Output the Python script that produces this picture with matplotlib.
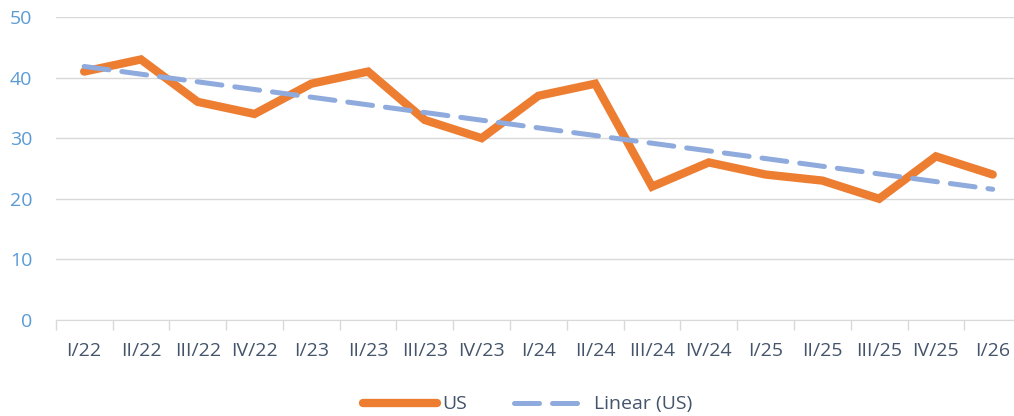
import numpy as np
import matplotlib.pyplot as plt
from matplotlib.lines import Line2D

quarters = ['I/22', 'II/22', 'III/22', 'IV/22', 'I/23', 'II/23', 'III/23', 'IV/23',
            'I/24', 'II/24', 'III/24', 'IV/24', 'I/25', 'II/25', 'III/25', 'IV/25', 'I/26']
us = [41, 43, 36, 34, 39, 41, 33, 30, 37, 39, 22, 26, 24, 23, 20, 27, 24]

plt.rcParams['font.family'] = ['Open Sans', 'DejaVu Sans']

x = np.arange(len(quarters))
slope, icpt = np.polyfit(x, us, 1)
trend = slope * x + icpt

fig = plt.figure(figsize=(10.14, 4.16), dpi=100)
ax = fig.add_axes([0.055, 0.231, 0.952, 0.728])

ax.plot(x, us, color='#ED7D31', lw=6, solid_joinstyle='miter', solid_capstyle='round', zorder=3)
ax.plot(x, trend, color='#8FAADC', lw=3.6, dashes=(5, 2.6), dash_capstyle='round', zorder=4)

ax.set_xlim(-0.5, len(quarters) - 0.5)
ax.set_ylim(0, 50)
ax.set_yticks(range(0, 51, 10))
ax.yaxis.grid(True, color='#D9D9D9', lw=1)
ax.set_axisbelow(True)

ax.set_xticks(x)
ax.set_xticklabels(quarters)
ax.set_xticks(np.arange(-0.5, len(quarters)), minor=True)
ax.tick_params(axis='x', which='major', length=0, pad=16, labelsize=14, labelcolor='#44546A')
ax.tick_params(axis='x', which='minor', length=7, color='#D9D9D9', width=1)
ax.tick_params(axis='y', length=0, pad=17, labelsize=14, labelcolor='#5B9BD5')
for lbl in ax.get_yticklabels():
    lbl.set_horizontalalignment('right')

for s in ['top', 'right', 'left']:
    ax.spines[s].set_visible(False)
ax.spines['bottom'].set_color('#D9D9D9')

handles = [Line2D([], [], color='#ED7D31', lw=6, solid_capstyle='round'),
           Line2D([], [], color='#8FAADC', lw=3.6, dashes=(5, 2.6), dash_capstyle='round')]
fig.legend(handles, ['US', 'Linear (US)'], loc='center', bbox_to_anchor=(0.52, 0.028),
           ncol=2, frameon=False, fontsize=14, handlelength=3.8, handletextpad=0.3,
           columnspacing=2.4, labelcolor='#44546A')

fig.savefig('out.png', dpi=100)
